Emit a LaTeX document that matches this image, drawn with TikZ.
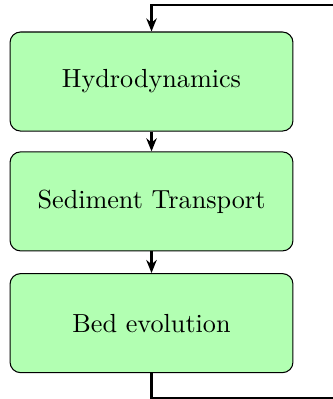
\documentclass[tikz,border=0pt]{standalone}
\usepackage{tikz}
\usetikzlibrary{arrows.meta}

\begin{document}
\begin{tikzpicture}[
  block/.style={rectangle, rounded corners=4pt, draw, fill=green!30,
    minimum width=3.8cm, minimum height=1.33cm},
  flow/.style={-{Stealth[length=5pt,width=4pt]}, thick}
]
\clip (-2.035,1.095) rectangle (2.437,-4.264);
\node[block] (HYD) at (0,0) {Hydrodynamics};
\node[block] (SED) at (0,-1.61) {Sediment Transport};
\node[block] (BED) at (0,-3.245) {Bed evolution};
\coordinate (LB) at (0,-4.25);
\coordinate (LT) at (0,1.027);
\draw[flow] (HYD) -- (SED);
\draw[flow] (SED) -- (BED);
\draw[flow] (BED) -- (LB) -- (3.5,-4.25) -- (3.5,1.027) -- (LT) -- (HYD);
\end{tikzpicture}
\end{document}
